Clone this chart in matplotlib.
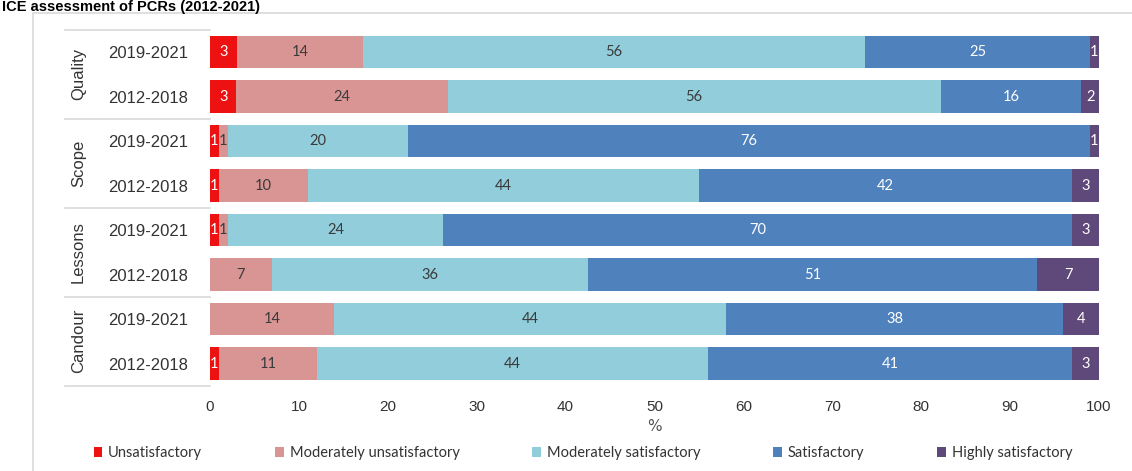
import numpy as np
import matplotlib
matplotlib.use("Agg")
from matplotlib import pyplot as plt
from matplotlib.patches import Rectangle
import matplotlib.transforms as mtransforms

# Data (rounded % as printed on the chart)
groups = ["Quality", "Scope", "Lessons", "Candour"]
periods = ["2019-2021", "2012-2018"]
categories = ["Unsatisfactory", "Moderately unsatisfactory", "Moderately satisfactory",
              "Satisfactory", "Highly satisfactory"]
unsatisfactory = [3, 3, 1, 1, 1, 0, 0, 1]
mod_unsatisfactory = [14, 24, 1, 10, 1, 7, 14, 11]
mod_satisfactory = [56, 56, 20, 44, 24, 36, 44, 44]
satisfactory = [25, 16, 76, 42, 70, 51, 38, 41]
highly_satisfactory = [1, 2, 1, 3, 3, 7, 4, 3]

colors = ["#ee1111", "#d99594", "#92cddc", "#4f81bd", "#5f497a"]
text_colors = ["white", "#3a3a3a", "#3a3a3a", "white", "white"]


def main():
    series = np.array([unsatisfactory, mod_unsatisfactory, mod_satisfactory,
                       satisfactory, highly_satisfactory], dtype=float)
    # rows don't always add to 100 because of rounding, scale to full width
    widths = series / series.sum(axis=0) * 100

    fig = plt.figure(figsize=(11.32, 4.71), dpi=100)
    ax = fig.add_axes([0.1855, 0.181, 0.7853, 0.7558])

    y = np.arange(len(unsatisfactory))
    left = np.zeros(len(y))
    for i, cat in enumerate(categories):
        ax.barh(y, widths[i], left=left, height=0.74, color=colors[i], label=cat)
        for j in range(len(y)):
            if series[i, j] > 0:
                ax.text(left[j] + widths[i, j] / 2, y[j], f"{int(series[i, j])}",
                        ha="center", va="center", fontsize=10.5,
                        color=text_colors[i], family="Lato")
        left += widths[i]

    ax.set_xlim(0, 100)
    ax.set_ylim(len(y) - 0.5, -0.5)
    ax.set_xticks(range(0, 101, 10))
    ax.set_yticks(y)
    ax.set_yticklabels(periods * len(groups), fontsize=12, family="Liberation Sans",
                       color="#333333")
    ax.tick_params(axis="both", length=0)
    ax.tick_params(axis="y", pad=16)
    ax.tick_params(axis="x", pad=10, labelsize=11, labelcolor="#333333")
    for lbl in ax.get_xticklabels():
        lbl.set_family("Liberation Sans")
    for s in ax.spines.values():
        s.set_visible(False)
    ax.set_xlabel("%", fontsize=11, color="#555555", labelpad=4)

    # group labels and separators on the left
    trans = mtransforms.blended_transform_factory(ax.transAxes, ax.transData)
    for g, name in enumerate(groups):
        ax.text(-0.148, 2 * g + 0.5, name, rotation=90, ha="center", va="center",
                fontsize=12, family="Liberation Sans", color="#333333", transform=trans)
    for b in np.arange(-0.5, len(y), 2):
        ax.plot([-0.163, 0], [b, b], color="#d9d9d9", lw=1.2, transform=trans,
                clip_on=False)

    # chart border (top and left only visible)
    fig.patches.append(Rectangle((0.029, -0.01), 1.0, 0.982, fill=False,
                                 edgecolor="#d9d9d9", lw=1.2,
                                 transform=fig.transFigure, figure=fig))

    fig.text(0.002, 0.999, "ICE assessment of PCRs (2012-2021)", fontsize=10.5,
             fontweight="bold", family="Liberation Sans", ha="left", va="top")

    fig.legend(loc="center", bbox_to_anchor=(0.515, 0.038), ncol=5, frameon=False,
               prop={"family": "Lato", "size": 10.5}, handlelength=0.6,
               handleheight=0.6, handletextpad=0.4, columnspacing=5.0,
               labelcolor="#333333")

    fig.savefig("out.png", dpi=100)
    plt.close(fig)


if __name__ == "__main__":
    main()
